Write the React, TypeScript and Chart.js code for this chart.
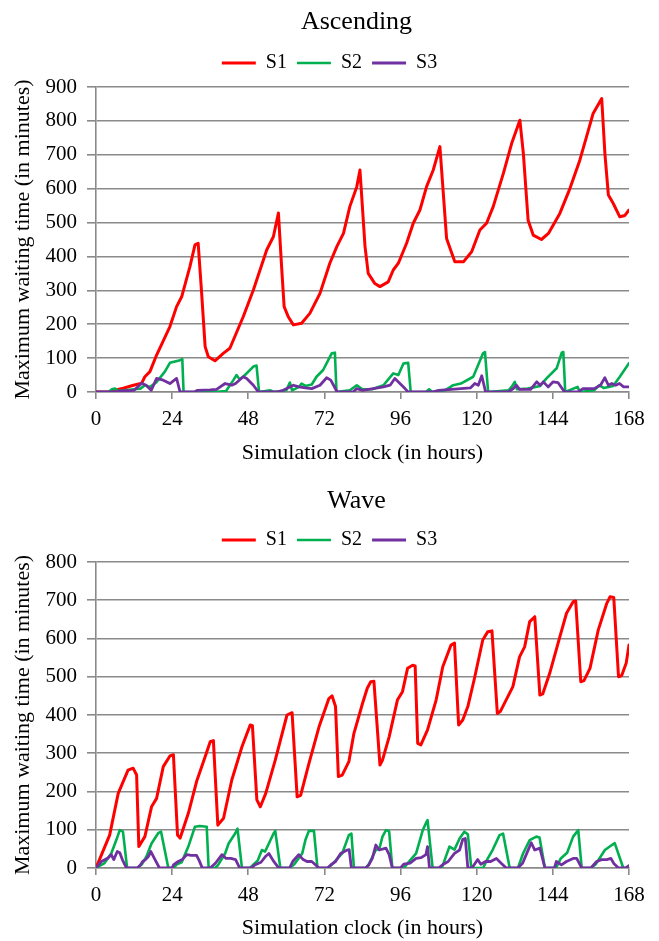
import React, { useEffect, useRef } from 'react';
import { Chart, registerables } from 'chart.js';

Chart.register(...registerables);

type Pt = [number, number];

// ---------- shared axis data ----------
const hourTicks = [0, 24, 48, 72, 96, 120, 144, 168];
const ascendingYTicks = [0, 100, 200, 300, 400, 500, 600, 700, 800, 900];
const waveYTicks = [0, 100, 200, 300, 400, 500, 600, 700, 800];
const seriesLabels = ['S1', 'S2', 'S3'];

// ---------- Ascending: [hour, minutes] ----------
const ascS1: Pt[] = [
  [0, 0], [4, 0], [5, 3], [8.6, 11], [11.8, 20], [14.4, 26], [15.4, 45], [17, 60], [19.1, 109], [23.3, 193],
  [25.4, 252], [27, 281], [29.6, 370], [31.2, 434], [32.2, 439], [33.3, 291], [34.4, 134], [35.4, 104], [37.5, 92], [40.1, 114],
  [42.2, 129], [46.4, 222], [49.6, 301], [53.8, 419], [55.9, 458], [57.5, 528], [58.5, 370], [59.3, 252], [60.6, 222], [62.2, 198],
  [64.8, 203], [67.4, 232], [70.6, 291], [73.7, 380], [75.9, 429], [78, 468], [80, 547], [82.2, 606], [83.2, 655], [84.8, 429],
  [85.8, 350], [87.9, 320], [89.5, 311], [92.1, 325], [93.7, 360], [95.3, 380], [97.9, 439], [100, 498], [102.1, 537], [104.2, 606],
  [106.3, 655], [108.4, 724], [110.5, 453], [113.1, 384], [115.8, 384], [118.4, 414], [121, 478], [123.1, 498], [125.2, 547], [128.4, 645],
  [131, 733], [133.6, 802], [134.7, 704], [136.2, 507], [137.8, 463], [140.4, 450], [142.6, 468], [146.2, 527], [149.4, 601], [152.5, 684],
  [154.6, 753], [156.7, 822], [159.4, 866], [160.4, 704], [161.5, 581], [163, 557], [165.1, 517], [166.7, 521], [168, 537],
];
const ascS2: Pt[] = [
  [0, 0], [4, 0], [5, 8], [6, 10], [7, 3], [9, 5], [12, 8], [14, 10], [15.4, 20], [17, 15], [19, 28], [21.7, 60], [23.3, 86],
  [26.5, 94], [27.2, 97], [27.6, 0], [32, 0], [33, 5], [34, 0], [36, 5], [37, 0], [41, 3], [43.3, 35], [44.3, 50], [45.2, 38],
  [46.4, 45], [49.6, 75], [50.6, 78], [51.4, 0], [55, 5], [56, 0], [60, 5], [61.1, 28], [61.8, 5], [64, 15], [64.8, 25], [66, 18],
  [68, 22], [69.5, 45], [71.6, 65], [73.2, 94], [74.3, 114], [75.3, 116], [75.8, 0], [80, 5], [82.2, 20], [84, 8], [87, 8],
  [90.6, 20], [93.7, 55], [95.3, 50], [96.9, 84], [98.4, 86], [99.2, 0], [104, 0], [105, 8], [106, 0], [110, 5], [112.6, 20],
  [115, 25], [118.9, 45], [122, 114], [122.6, 118], [123.6, 0], [130, 5], [131, 15], [132, 30], [132.7, 8], [136, 10], [140, 18],
  [142, 40], [145.2, 70], [146.8, 116], [147.3, 118], [147.9, 0], [151.8, 15], [152.5, 0], [157, 5], [158.6, 20], [160, 12],
  [163, 18], [165.1, 45], [168, 85],
];
const ascS3: Pt[] = [
  [0, 0], [6, 0], [8, 3], [12, 5], [14.4, 26], [15.8, 20], [17.4, 5], [19.1, 40], [21.2, 35], [23.3, 25], [25.4, 40], [26.5, 0],
  [31, 0], [32, 5], [36, 6], [38, 8], [40.7, 25], [42.8, 20], [44, 25], [46.4, 45], [47.5, 40], [49.6, 20], [51.2, 0], [57, 0],
  [59, 5], [62.2, 20], [64, 15], [66, 12], [68, 10], [70.6, 20], [72.7, 42], [74, 35], [76, 0], [81, 0], [82.2, 10], [84, 5],
  [87.4, 10], [90.6, 15], [92.7, 20], [94.2, 40], [95.8, 25], [97.4, 10], [98.4, 0], [106, 0], [108, 5], [112, 8], [115, 10],
  [118, 12], [119.4, 25], [120.5, 20], [121.6, 48], [122.8, 0], [130, 0], [131.5, 10], [132.5, 20], [133.5, 8], [137, 8],
  [138.9, 30], [140, 20], [141, 30], [142.5, 15], [144.1, 30], [145.6, 28], [147.7, 0], [152, 0], [153.5, 10], [157, 10],
  [159, 20], [160.4, 42], [161.5, 20], [162.6, 25], [163.8, 20], [165, 25], [166.3, 15], [168, 15],
];

// ---------- Wave: [hour, minutes] ----------
const waveS1: Pt[] = [
  [0, 0], [4.3, 86], [7, 195], [10.1, 256], [11.7, 261], [12.8, 243], [13.5, 56], [15.4, 82], [17.5, 160], [19.1, 182],
  [21.2, 265], [23.3, 293], [24.4, 296], [25.7, 86], [26.5, 78], [29.1, 143], [31.7, 226], [34.4, 291], [36, 330], [37, 333],
  [38.4, 112], [40.2, 130], [42.8, 230], [46, 317], [48.6, 374], [49.3, 372], [50.7, 178], [51.8, 160], [53.5, 195], [56.5, 282],
  [60.2, 400], [61.8, 406], [63.4, 186], [64.5, 190], [67.1, 273], [70.3, 369], [73.4, 443], [74.4, 450], [75.5, 422], [76.4, 239],
  [77.6, 243], [79.7, 278], [81.3, 352], [84, 430], [85.5, 470], [86.6, 487], [87.6, 488], [89.5, 269], [90.3, 282], [92.4, 343],
  [95, 439], [96.6, 461], [98.2, 522], [99.8, 530], [100.6, 528], [101.4, 326], [102.4, 322], [104.5, 361], [107.2, 439], [109.3, 526],
  [111.9, 583], [113, 588], [114.3, 374], [115.6, 387], [117.2, 422], [119.3, 496], [121.9, 596], [123.5, 618], [124.8, 620], [126.5, 404],
  [127.5, 410], [131.4, 474], [133.5, 552], [135.1, 578], [136.7, 644], [138.3, 657], [139.9, 452], [140.8, 455], [143, 509], [146.2, 604],
  [148.3, 666], [150.4, 696], [151.2, 698], [152.8, 487], [153.8, 490], [155.7, 522], [158.3, 622], [161, 692], [162, 709], [163.2, 707],
  [164.7, 500], [165.7, 503], [167.1, 535], [168, 583],
];
const waveS2: Pt[] = [
  [0, 0], [2.7, 13], [4.8, 38], [6.4, 73], [7.5, 99], [8.5, 95], [9.8, 0], [13, 0], [14.5, 10], [15.9, 30], [17.5, 64], [19.6, 91],
  [20.5, 95], [22.8, 0], [24.5, 0], [25.5, 10], [27, 15], [29.1, 56], [31.2, 108], [32.7, 110], [34.9, 108], [35.5, 0], [37.5, 0],
  [38.5, 8], [40.7, 38], [41.8, 64], [43.9, 91], [44.6, 103], [46, 0], [48.5, 0], [49.5, 8], [51, 20], [52.3, 47], [53.3, 43],
  [56, 91], [56.5, 97], [58.1, 0], [61, 0], [62.5, 10], [65, 38], [66, 73], [67.1, 97], [68.7, 97], [69.8, 0], [73, 0], [74.5, 10],
  [77.6, 38], [79.7, 86], [80.5, 90], [81.3, 0], [85, 0], [86, 10], [88.2, 47], [89.3, 50], [90.3, 82], [91.4, 99], [92.4, 96],
  [93.4, 0], [97, 0], [98, 10], [100.9, 38], [103, 99], [104.2, 121], [104.5, 125], [106.1, 0], [109, 0], [111.4, 56], [113, 48],
  [114.6, 77], [116.1, 95], [117.2, 88], [118.3, 0], [122, 0], [123.5, 25], [125, 47], [127.2, 86], [128.3, 90], [130.4, 0],
  [133, 0], [134.6, 38], [136.7, 73], [138.8, 82], [139.8, 80], [141.5, 0], [145, 0], [146.5, 25], [148.5, 40], [150.4, 82],
  [152, 99], [153.1, 0], [156, 0], [157.5, 10], [160.4, 47], [162.6, 60], [163.5, 65], [166.2, 0], [167, 0], [168, 5],
];
const waveS3: Pt[] = [
  [0, 0], [1.7, 17], [3.8, 26], [4.8, 35], [5.6, 22], [6.7, 43], [7.5, 40], [8.3, 22], [9.6, 0], [13, 0], [14, 8], [14.7, 17],
  [15.6, 22], [16.5, 30], [17.3, 43], [18.6, 22], [20, 0], [24, 0], [24.4, 8], [25.9, 17], [27.2, 22], [28.6, 35], [30, 33],
  [31.7, 33], [32.5, 20], [33.5, 0], [36, 0], [37.7, 13], [39.7, 35], [41, 25], [42.5, 25], [44, 22], [45.3, 0], [49, 0], [50, 8],
  [52, 15], [53.4, 30], [54.5, 38], [55.8, 20], [57.6, 0], [61, 0], [62, 17], [63.9, 35], [65.3, 22], [66.5, 17], [68, 17],
  [70.3, 0], [73, 0], [74, 8], [75.5, 17], [77.1, 38], [79.2, 47], [79.8, 48], [80.5, 0], [85, 0], [86, 8], [87.1, 25], [88.2, 60],
  [89.3, 47], [91.4, 52], [92.4, 35], [93.4, 0], [96, 0], [97, 10], [99, 13], [100.9, 25], [102.5, 27], [104, 35], [104.5, 56],
  [105.1, 0], [108, 0], [109.5, 10], [111, 17], [113, 38], [114.6, 47], [115.6, 75], [116.4, 77], [117.2, 0], [118.5, 0],
  [120.3, 22], [121.3, 10], [122.8, 17], [124.4, 17], [126.2, 25], [127.8, 12], [129.3, 0], [133, 0], [134.5, 13], [135.6, 35],
  [137.2, 66], [138.3, 47], [139.9, 52], [141.5, 0], [144.5, 0], [145.1, 17], [146.7, 8], [148.3, 17], [150.4, 25], [151.5, 25],
  [153.1, 0], [156, 0], [157.8, 17], [159.4, 22], [161, 22], [162.3, 25], [163.2, 12], [164.7, 0], [167, 0], [168, 6],
];

// ---------- styling ----------
const SERIF = "'Liberation Serif', 'Times New Roman', Times, serif";
const GRID = '#8a8a8a';
const seriesColors = ['#ff0000', '#00b050', '#7030a0'];
const seriesWidths = [3, 2.6, 2.8];

const layoutTweaks = {
  id: 'layoutTweaks',
  beforeLayout(chart: any, _args: any, opts: any) {
    const lg = chart.legend;
    if (lg && !lg.__patched) {
      const orig = lg.fit;
      lg.fit = function () {
        orig.call(lg);
        lg.height += opts.legendExtra || 0;
      };
      lg.__patched = true;
    }
  },
  afterLayout(chart: any, _args: any, opts: any) {
    const t = chart.titleBlock;
    if (t) {
      t.left = chart.chartArea.left + (opts.titleShift || 0);
      t.right = chart.chartArea.right;
    }
    const lg = chart.legend;
    if (lg) {
      lg.left = 0;
      lg.right = chart.width;
    }
  },
};

type PanelProps = {
  title: string;
  yMax: number;
  yTicks: number[];
  series: Pt[][];
  top: number;
  titlePadTop: number;
  titlePadBottom: number;
  legendExtra: number;
  xAxisHeight: number;
};

function Panel(p: PanelProps) {
  const ref = useRef<HTMLCanvasElement | null>(null);
  useEffect(() => {
    if (!ref.current) return;
    const chart = new Chart(ref.current, {
      type: 'line',
      data: {
        datasets: p.series.map((pts, i) => ({
          label: seriesLabels[i],
          data: pts.map(([x, y]) => ({ x, y })),
          borderColor: seriesColors[i],
          backgroundColor: seriesColors[i],
          borderWidth: seriesWidths[i],
          pointRadius: 0,
          tension: 0,
          fill: false,
          borderJoinStyle: 'round',
          borderCapStyle: 'round',
          order: p.series.length - i,
        })),
      },
      options: {
        animation: false,
        responsive: false,
        maintainAspectRatio: false,
        events: [],
        layout: { padding: { left: 0, right: 30, top: 0, bottom: 0 } },
        plugins: {
          title: {
            display: true,
            text: p.title,
            color: '#000',
            font: { family: SERIF, size: 26, weight: 'normal' },
            padding: { top: p.titlePadTop, bottom: p.titlePadBottom },
          },
          legend: {
            display: true,
            position: 'top',
            labels: {
              usePointStyle: true,
              pointStyle: 'line',
              pointStyleWidth: 34,
              color: '#000',
              font: { family: SERIF, size: 20 },
              padding: 10,
              sort: (a: any, b: any) => a.datasetIndex - b.datasetIndex,
            },
          },
          tooltip: { enabled: false },
          layoutTweaks: { legendExtra: p.legendExtra, titleShift: -12 },
        } as any,
        scales: {
          x: {
            type: 'linear',
            min: 0,
            max: 168,
            afterBuildTicks: (s: any) => {
              s.ticks = hourTicks.map((v) => ({ value: v }));
            },
            afterFit: (s: any) => {
              s.height = p.xAxisHeight;
            },
            ticks: { color: '#000', font: { family: SERIF, size: 21 }, padding: 8, maxRotation: 0, autoSkip: false },
            grid: { drawOnChartArea: false, drawTicks: true, tickLength: 7, color: GRID, lineWidth: 1.6 },
            border: { display: true, color: GRID, width: 1.6 },
            title: {
              display: true,
              text: 'Simulation clock (in hours)',
              color: '#000',
              font: { family: SERIF, size: 22 },
              padding: { top: 0, bottom: 4 },
            },
          },
          y: {
            type: 'linear',
            min: 0,
            max: p.yMax,
            afterBuildTicks: (s: any) => {
              s.ticks = p.yTicks.map((v) => ({ value: v }));
            },
            afterFit: (s: any) => {
              s.width = 96;
            },
            ticks: { color: '#000', font: { family: SERIF, size: 21 }, padding: 10 },
            grid: { drawTicks: true, tickLength: 9, color: GRID, lineWidth: 1.6 },
            border: { display: true, color: GRID, width: 1.6 },
            title: {
              display: true,
              text: 'Maximum waiting time (in minutes)',
              color: '#000',
              font: { family: SERIF, size: 22 },
              padding: { top: 10, bottom: 0 },
            },
          },
        },
      } as any,
      plugins: [layoutTweaks as any],
    });
    return () => chart.destroy();
  }, []);
  return (
    <canvas
      ref={ref}
      width={659}
      height={470}
      style={{ position: 'absolute', left: 0, top: p.top, width: 659, height: 470, display: 'block' }}
    />
  );
}

export default function App() {
  return (
    <div
      style={{
        position: 'absolute',
        left: 0,
        top: 0,
        width: 659,
        height: 941,
        overflow: 'hidden',
        background: '#fff',
      }}
    >
      <Panel
        title="Ascending"
        yMax={900}
        yTicks={ascendingYTicks}
        series={[ascS1, ascS2, ascS3]}
        top={0}
        titlePadTop={6.4}
        titlePadBottom={5.4}
        legendExtra={4}
        xAxisHeight={78}
      />
      <Panel
        title="Wave"
        yMax={800}
        yTicks={waveYTicks}
        series={[waveS1, waveS2, waveS3]}
        top={475}
        titlePadTop={10.4}
        titlePadBottom={3.4}
        legendExtra={2}
        xAxisHeight={77}
      />
    </div>
  );
}
